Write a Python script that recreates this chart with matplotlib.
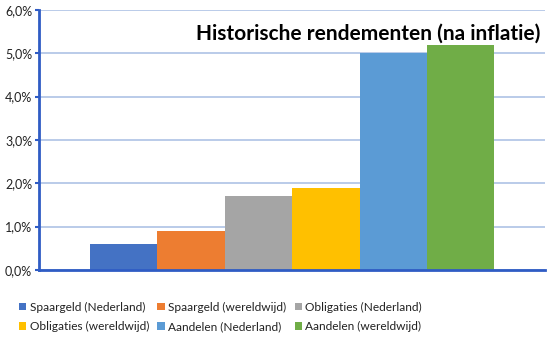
import numpy as np
import matplotlib.pyplot as plt
from matplotlib.ticker import FuncFormatter

labels = ['Spaargeld (Nederland)', 'Spaargeld (wereldwijd)', 'Obligaties (Nederland)',
          'Obligaties (wereldwijd)', 'Aandelen (Nederland)', 'Aandelen (wereldwijd)']
rendement = [0.6, 0.9, 1.7, 1.9, 5.0, 5.2]
kleuren = ['#4472C4', '#ED7D31', '#A5A5A5', '#FFC000', '#5B9BD5', '#70AD47']
yticks = [0, 1, 2, 3, 4, 5, 6]

plt.rcParams.update({'font.family': ['Lato', 'DejaVu Sans'],
                     'font.size': 8})

fig = plt.figure(figsize=(5.5, 3.4), dpi=100)
ax = fig.add_axes([0.071, 0.206, 0.92, 0.765])

x = np.arange(len(rendement))
bars = ax.bar(x, rendement, width=1.0, color=kleuren, label=labels, zorder=3)

ax.set_xlim(-1.25, 6.25)
ax.set_ylim(0, 6)
ax.set_yticks(yticks)
ax.yaxis.set_major_formatter(FuncFormatter(lambda v, _: f'{v:.1f}%'.replace('.', ',')))
ax.set_xticks([])
ax.grid(axis='y', color='#B4C7E7', linewidth=1.3, zorder=0)
ax.tick_params(axis='y', length=3, width=1.5, color='#2F5CC4', labelsize=9,
               labelcolor='#222222', pad=2)

for side in ['top', 'right']:
    ax.spines[side].set_visible(False)
for side in ['left', 'bottom']:
    ax.spines[side].set_color('#2F5CC4')
    ax.spines[side].set_linewidth(2)
    ax.spines[side].set_zorder(4)

ax.text(0.99, 0.91, 'Historische rendementen (na inflatie)', transform=ax.transAxes,
        ha='right', va='center', fontsize=15, fontweight='bold', color='black', zorder=5)

# legend rows are filled left to right, matplotlib fills columns first
volgorde = [0, 3, 1, 4, 2, 5]
handles = [bars[i] for i in volgorde]
fig.legend(handles, [labels[i] for i in volgorde], ncol=3, loc='center left',
           bbox_to_anchor=(0.015, 0.068), frameon=False, fontsize=8.6,
           handlelength=0.6, handleheight=0.6, handletextpad=0.3,
           columnspacing=0.7, labelspacing=0.7, labelcolor='#222222')

fig.savefig('out.png', dpi=100)
